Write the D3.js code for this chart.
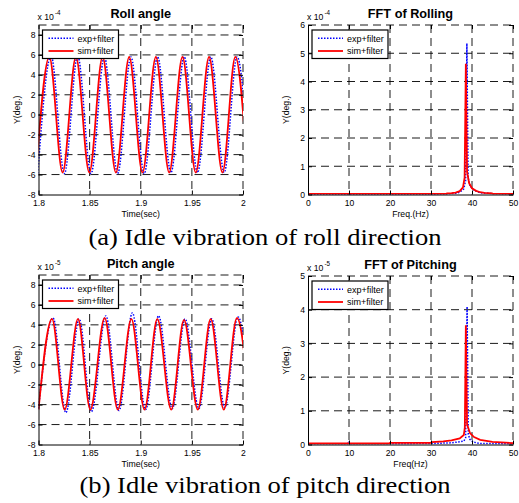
<!DOCTYPE html>
<html>
<head>
<meta charset="utf-8">
<script src="https://cdn.jsdelivr.net/npm/d3@7"></script>
<style>
  body { margin: 0; background: #fff; }
  svg text { font-family: "Liberation Sans", Arial, Helvetica, sans-serif; fill: #000; }
  svg text.caption { font-family: "Liberation Serif", "Times New Roman", Times, serif; }
</style>
</head>
<body>
<div id="chart"></div>
<script>
// ---- data ----
// time plots: successive peaks / troughs, units of 1e-4 (roll) and 1e-5 (pitch)
const rollSimT = [1.7976, 1.8106, 1.8236, 1.8366, 1.8497, 1.8627, 1.8757, 1.8887, 1.9017, 1.9148, 1.9278, 1.9408, 1.9538, 1.9668, 1.9799, 1.9925, 2.0045];
const rollSimY = [-5.8, 5.8, -5.8, 5.8, -5.8, 5.8, -5.8, 5.8, -5.8, 5.8, -5.8, 5.8, -5.8, 5.8, -5.8, 5.8, -5.8];
const rollExpT = [1.7993, 1.8123, 1.8253, 1.8383, 1.8514, 1.8644, 1.8774, 1.8904, 1.9034, 1.9165, 1.9295, 1.9425, 1.9555, 1.9685, 1.9816, 1.9942, 2.0062];
const rollExpY = [-5.9, 5.9, -5.9, 5.9, -5.9, 5.8, -5.9, 5.8, -5.9, 5.8, -5.8, 5.8, -5.8, 5.8, -5.8, 5.8, -5.8];

const pitchSimT = [1.8, 1.8132, 1.8256, 1.8386, 1.8507, 1.8647, 1.8776, 1.8908, 1.9037, 1.9162, 1.9298, 1.9423, 1.9558, 1.9684, 1.9812, 1.9941, 2.0070];
const pitchSimY = [-4.5, 4.6, -4.5, 4.6, -4.5, 4.7, -4.5, 4.6, -4.5, 4.6, -4.5, 4.5, -4.5, 4.6, -4.5, 4.7, -4.5];
const pitchExpT = [1.8, 1.8142, 1.8268, 1.8398, 1.8518, 1.8659, 1.8787, 1.8918, 1.9047, 1.9174, 1.9308, 1.9433, 1.9568, 1.9694, 1.9822, 1.9951, 2.0080];
const pitchExpY = [-4.4, 4.7, -4.8, 4.6, -4.7, 4.9, -4.6, 5.2, -4.5, 4.9, -4.4, 4.6, -4.4, 4.6, -4.3, 4.8, -4.5];

// spectra
const rollFftSimF = [0, 10, 20, 30, 33.8, 33.9, 35, 36, 37, 37.8, 38.2, 38.5, 38.8, 39.3, 40, 41, 42, 43, 44.9, 45, 50];
const rollFftSimA = [0.02, 0.02, 0.02, 0.02, 0.02, 0.04, 0.05, 0.07, 0.12, 0.25, 0.6, 4.63, 0.8, 0.4, 0.22, 0.13, 0.08, 0.06, 0.04, 0.02, 0.02];
const rollFftExpF = [0, 10, 20, 30, 34, 36, 37, 38, 38.45, 38.75, 39.05, 39.5, 40.5, 42, 45, 50];
const rollFftExpA = [0.01, 0.01, 0.01, 0.01, 0.02, 0.04, 0.08, 0.2, 0.5, 5.35, 0.6, 0.3, 0.15, 0.06, 0.03, 0.01];

const pitchFftSimF = [0, 10, 19.8, 20, 30, 30.2, 33, 35, 37, 38, 38.25, 38.5, 38.8, 39.5, 40.5, 42, 45, 50];
const pitchFftSimA = [0.03, 0.03, 0.03, 0.05, 0.05, 0.07, 0.09, 0.12, 0.18, 0.28, 0.5, 3.54, 0.6, 0.34, 0.22, 0.14, 0.08, 0.04];
const pitchFftExpF = [0, 9.6, 9.8, 10, 10.2, 20, 30, 35, 37, 38, 38.45, 38.8, 39.1, 39.5, 40.3, 42, 50];
const pitchFftExpA = [0.02, 0.02, 0.08, 0.08, 0.02, 0.02, 0.03, 0.05, 0.08, 0.1, 0.2, 4.09, 0.3, 0.15, 0.07, 0.03, 0.02];

const timeTicks = [1.8, 1.85, 1.9, 1.95, 2];
const freqTicks = [0, 10, 20, 30, 40, 50];
const angleTicks = [-8, -6, -4, -2, 0, 2, 4, 6, 8];
const legendNames = ["exp+filter", "sim+filter"];
const captions = ["(a) Idle vibration of roll direction", "(b) Idle vibration of pitch direction"];

const W = 519, H = 503;
const svg = d3.select("#chart").append("svg").attr("width", W).attr("height", H);

const expStyle = { color: "#0000ff", width: 1.5, dash: "1.5,1.5" };
const simStyle = { color: "#ff0000", width: 1.8, dash: null };

let clipN = 0;

function drawPanel(p) {
  const x = d3.scaleLinear().domain(p.xDomain).range([p.left, p.right]);
  const y = d3.scaleLinear().domain(p.yDomain).range([p.bottom, p.top]);
  const g = svg.append("g");

  // dashed grid, interior ticks only
  const gridDash = "8,5";
  g.selectAll("line.vg")
    .data(p.xTicks.filter(d => d !== p.xDomain[0] && d !== p.xDomain[1]))
    .enter().append("line")
    .attr("x1", d => x(d)).attr("x2", d => x(d))
    .attr("y1", p.top).attr("y2", p.bottom)
    .attr("stroke", "#000").attr("stroke-width", 0.9).attr("stroke-dasharray", gridDash);
  g.selectAll("line.hg")
    .data(p.yTicks.filter(d => d !== p.yDomain[0] && d !== p.yDomain[1]))
    .enter().append("line")
    .attr("x1", p.left).attr("x2", p.right)
    .attr("y1", d => y(d)).attr("y2", d => y(d))
    .attr("stroke", "#000").attr("stroke-width", 0.9).attr("stroke-dasharray", gridDash);
  // top and right edges look dashed in the original
  g.append("line").attr("x1", p.left).attr("x2", p.right).attr("y1", p.top).attr("y2", p.top)
    .attr("stroke", "#000").attr("stroke-width", 0.9).attr("stroke-dasharray", gridDash);
  g.append("line").attr("x1", p.right).attr("x2", p.right).attr("y1", p.top).attr("y2", p.bottom)
    .attr("stroke", "#000").attr("stroke-width", 0.9).attr("stroke-dasharray", gridDash);

  // curves
  const id = "clip" + (clipN++);
  svg.append("clipPath").attr("id", id).append("rect")
    .attr("x", p.left).attr("y", p.top - 1)
    .attr("width", p.right - p.left).attr("height", p.bottom - p.top + 1);

  const line = d3.line().x(d => x(d[0])).y(d => y(d[1])).curve(p.curve);
  p.series.forEach(s => {
    g.append("path")
      .datum(d3.zip(s.xs, s.ys))
      .attr("clip-path", `url(#${id})`)
      .attr("fill", "none")
      .attr("stroke", s.style.color)
      .attr("stroke-width", s.style.width)
      .attr("stroke-dasharray", s.style.dash)
      .attr("d", line);
  });

  // axes, ticks pointing inward
  const fmt = d => String(d);
  const xa = g.append("g").attr("transform", `translate(0,${p.bottom})`)
    .call(d3.axisBottom(x).tickValues(p.xTicks).tickFormat(fmt).tickSizeInner(-4).tickSizeOuter(0).tickPadding(5.5));
  const ya = g.append("g").attr("transform", `translate(${p.left},0)`)
    .call(d3.axisLeft(y).tickValues(p.yTicks).tickFormat(fmt).tickSizeInner(-4).tickSizeOuter(0).tickPadding(3));
  g.append("g").attr("transform", `translate(0,${p.top})`)
    .call(d3.axisTop(x).tickValues(p.xTicks).tickFormat("").tickSizeInner(-4).tickSizeOuter(0))
    .call(a => a.select(".domain").remove());
  g.append("g").attr("transform", `translate(${p.right},0)`)
    .call(d3.axisRight(y).tickValues(p.yTicks).tickFormat("").tickSizeInner(-4).tickSizeOuter(0))
    .call(a => a.select(".domain").remove());
  [xa, ya].forEach(a => {
    a.attr("font-size", null).attr("font-family", null);
    a.selectAll("text").attr("font-size", "8.6px").attr("fill", "#000");
    a.select(".domain").attr("stroke-width", 1);
  });

  // title, labels, exponent
  const cx = (p.left + p.right) / 2;
  g.append("text").attr("x", cx).attr("y", p.top - 7.5)
    .attr("text-anchor", "middle").attr("font-size", "12.7px").attr("font-weight", "bold")
    .text(p.title);
  g.append("text").attr("x", cx).attr("y", p.bottom + 22)
    .attr("text-anchor", "middle").attr("font-size", "8.7px").text(p.xLabel);
  g.append("text")
    .attr("transform", `translate(${p.left - 19},${(p.top + p.bottom) / 2}) rotate(-90)`)
    .attr("text-anchor", "middle").attr("font-size", "8.7px").text("Y(deg.)");
  g.append("text").attr("x", p.left - 1).attr("y", p.top - 5.5)
    .attr("font-size", "8.7px").text("x 10");
  g.append("text").attr("x", p.left + 16.5).attr("y", p.top - 10)
    .attr("font-size", "6.3px").text(p.exponent);

  // legend
  const lx = p.left + 4, ly = p.top + 5;
  const lg = g.append("g");
  lg.append("rect").attr("x", lx).attr("y", ly).attr("width", 76).attr("height", 28.5)
    .attr("fill", "#fff").attr("stroke", "#000").attr("stroke-width", 1.2);
  [expStyle, simStyle].forEach((s, i) => {
    const ry = ly + 8.3 + i * 12.7;
    lg.append("line").attr("x1", lx + 6).attr("x2", lx + 31).attr("y1", ry).attr("y2", ry)
      .attr("stroke", s.color).attr("stroke-width", s.width).attr("stroke-dasharray", s.dash);
    lg.append("text").attr("x", lx + 35).attr("y", ry + 3.2)
      .attr("font-size", "9px").text(legendNames[i]);
  });
}

drawPanel({
  left: 38.5, right: 243, top: 25, bottom: 194.5,
  xDomain: [1.8, 2], yDomain: [-8, 9], xTicks: timeTicks, yTicks: angleTicks,
  title: "Roll angle", xLabel: "Time(sec)", exponent: "-4", curve: d3.curveMonotoneX,
  series: [
    { xs: rollExpT, ys: rollExpY, style: expStyle },
    { xs: rollSimT, ys: rollSimY, style: simStyle }
  ]
});
drawPanel({
  left: 308, right: 513, top: 25, bottom: 194.5,
  xDomain: [0, 50], yDomain: [0, 6], xTicks: freqTicks, yTicks: [0, 1, 2, 3, 4, 5, 6],
  title: "FFT of Rolling", xLabel: "Freq.(Hz)", exponent: "-4", curve: d3.curveLinear,
  series: [
    { xs: rollFftExpF, ys: rollFftExpA, style: expStyle },
    { xs: rollFftSimF, ys: rollFftSimA, style: simStyle }
  ]
});
drawPanel({
  left: 38.5, right: 243, top: 275, bottom: 444.5,
  xDomain: [1.8, 2], yDomain: [-8, 9], xTicks: timeTicks, yTicks: angleTicks,
  title: "Pitch angle", xLabel: "Time(sec)", exponent: "-5", curve: d3.curveMonotoneX,
  series: [
    { xs: pitchExpT, ys: pitchExpY, style: expStyle },
    { xs: pitchSimT, ys: pitchSimY, style: simStyle }
  ]
});
drawPanel({
  left: 308, right: 513, top: 276, bottom: 444.5,
  xDomain: [0, 50], yDomain: [0, 5], xTicks: freqTicks, yTicks: [0, 1, 2, 3, 4, 5],
  title: "FFT of Pitching", xLabel: "Freq(Hz)", exponent: "-5", curve: d3.curveLinear,
  series: [
    { xs: pitchFftExpF, ys: pitchFftExpA, style: expStyle },
    { xs: pitchFftSimF, ys: pitchFftSimA, style: simStyle }
  ]
});

// captions (Times-like, a little wide in the original)
[[245, 353], [493.3, 371]].forEach(([by, len], i) => {
  svg.append("text").attr("class", "caption")
    .attr("x", 265).attr("y", by)
    .attr("text-anchor", "middle")
    .attr("font-size", "23px")
    .attr("textLength", len).attr("lengthAdjust", "spacingAndGlyphs")
    .text(captions[i]);
});
</script>
</body>
</html>
